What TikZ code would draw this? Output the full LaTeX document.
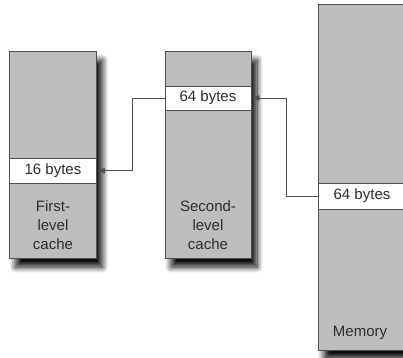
\documentclass[tikz,border=0pt]{standalone}
\usepackage{fontspec}
\setmainfont{Liberation Sans}
\usetikzlibrary{shadows.blur,arrows.meta}
\definecolor{boxgray}{RGB}{189,189,190}
\definecolor{edgegray}{RGB}{80,80,80}
\definecolor{txtgray}{RGB}{45,45,45}
\tikzset{
  memblock/.style={draw=edgegray, line width=0.9pt, fill=boxgray, inner sep=0pt,
    blur shadow={shadow xshift=6pt, shadow yshift=-9pt, shadow blur radius=6pt, shadow opacity=95, shadow blur steps=12}},
  band/.style={draw=edgegray, line width=0.8pt, fill=white, inner sep=0pt,
    font=\fontsize{15}{19}\selectfont, text=txtgray},
  lbl/.style={font=\fontsize{15}{19}\selectfont, text=txtgray, align=center, inner sep=0pt},
  conn/.style={draw=edgegray, line width=0.8pt, -{Latex[length=8pt,width=6pt]}}
}
\begin{document}
\begin{tikzpicture}[x=1pt,y=-1pt]
\useasboundingbox (0,0) rectangle (403,357);
\clip (0,0) rectangle (403,357);
% first-level cache
\node[memblock, minimum width=87pt, minimum height=207pt] (l1) at (53,154.5) {};
\node[band, minimum width=87pt, minimum height=24.5pt] (b1) at (53,170.75) {16 bytes};
\node[lbl] (t1) at (53,225) {First-\\level\\cache};
% second-level cache
\node[memblock, minimum width=86pt, minimum height=207pt] (l2) at (208,154.5) {};
\node[band, minimum width=86pt, minimum height=24pt] (b2) at (208,98) {64 bytes};
\node[lbl] (t2) at (208,225) {Second-\\level\\cache};
% memory
\node[memblock, minimum width=88pt, minimum height=346pt] (mem) at (362,177) {};
\node[band, minimum width=88pt, minimum height=26pt] (bm) at (362,196) {64 bytes};
\node[lbl] (tm) at (360,333) {Memory};
% connectors
\draw[conn] (b2.west) -- ++(-32,0) |- (b1.east);
\draw[conn] (bm.west) -- ++(-31,0) |- (b2.east);
\end{tikzpicture}
\end{document}
